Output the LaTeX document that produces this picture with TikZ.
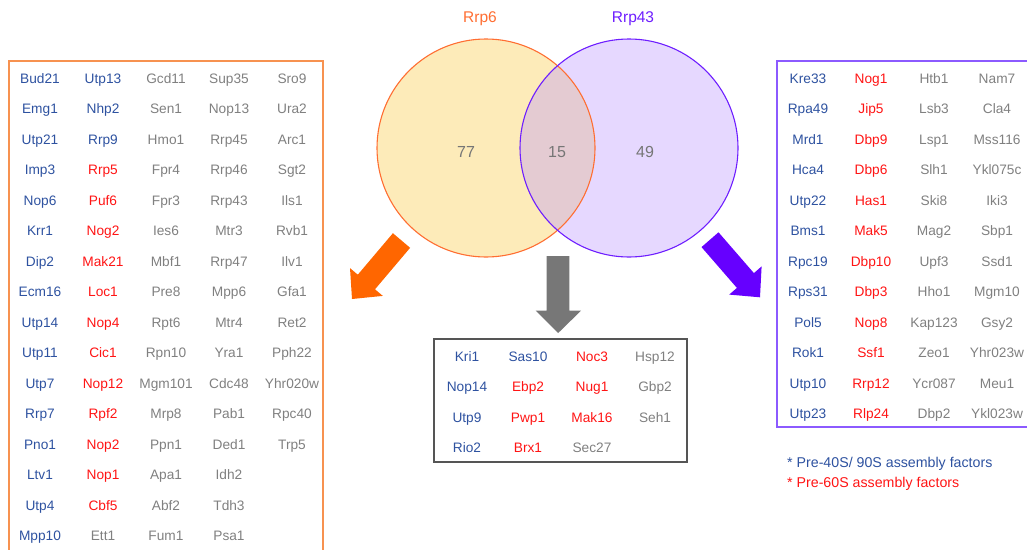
\documentclass[tikz,border=0pt]{standalone}
\usepackage{fontspec}
\setmainfont{Liberation Sans}
\definecolor{cblue}{RGB}{46,82,160}
\definecolor{cred}{RGB}{255,20,20}
\definecolor{cgray}{RGB}{128,128,128}
\definecolor{numgray}{RGB}{118,118,118}
\definecolor{orgline}{RGB}{255,110,50}
\definecolor{orgfill}{RGB}{253,235,185}
\definecolor{orgbox}{RGB}{247,146,80}
\definecolor{orgarrow}{RGB}{255,102,0}
\definecolor{purline}{RGB}{110,30,255}
\definecolor{purfill}{RGB}{185,148,255}
\definecolor{purbox}{RGB}{140,90,255}
\definecolor{purarrow}{RGB}{102,0,255}
\definecolor{grayarrow}{RGB}{119,119,119}
\definecolor{midbox}{RGB}{85,85,85}
\newcommand{\genefont}{\fontsize{13.7}{15}\selectfont}
\tikzset{
  gene/.style={anchor=base, inner sep=0pt, font=\genefont},
  gb/.style={gene, text=cblue},
  gr/.style={gene, text=cred},
  gg/.style={gene, text=cgray},
  num/.style={anchor=base, inner sep=0pt, font=\fontsize{16}{18}\selectfont, text=numgray},
  setlabel/.style={anchor=base, inner sep=0pt, font=\fontsize{15.5}{17}\selectfont},
  legend/.style={anchor=base west, inner sep=0pt, font=\fontsize{14.2}{16}\selectfont},
}
\begin{document}
\begin{tikzpicture}[x=1pt, y=-1pt]
\useasboundingbox (0,0) rectangle (1027,549);
\clip (0,0) rectangle (1027,549);
% Venn circles
\fill[orgfill] (486,148) circle (109);
\fill[purfill, fill opacity=0.36] (629,148) circle (109);
\draw[orgline, line width=1.1pt] (486,148) circle (109);
\draw[purline, line width=1.1pt] (629,148) circle (109);
\node[setlabel, text=orgline] (lab6) at (480,22.5) {Rrp6};
\node[setlabel, text=purline] (lab43) at (633,22.5) {Rrp43};
\node[num] (n77) at (466,157.5) {77};
\node[num] (n15) at (557,157.5) {15};
\node[num] (n49) at (645,157.5) {49};
% fat arrows
\fill[orgarrow] (392.9,233.2) -- (410.1,247.8) -- (375.0,289.3) -- (382.8,295.9) -- (352,299) -- (350.0,268.1) -- (357.8,274.7) -- cycle;
\fill[grayarrow] (546.7,256) -- (569.3,256) -- (569.3,310.7) -- (581,310.7) -- (558.2,333) -- (535.7,310.7) -- (546.7,310.7) -- cycle;
\fill[purarrow] (718.5,232.3) -- (753.9,273.1) -- (761.6,266.4) -- (760,297.3) -- (729.2,294.6) -- (736.9,287.9) -- (701.5,247.1) -- cycle;
% boxes
\draw[orgbox, line width=1.3pt] (9,61) rectangle (323,570);
\draw[purbox, line width=1.3pt] (777,61) rectangle (1040,427);
\draw[midbox, line width=1.2pt] (434,339) rectangle (687,462);
% left box
\foreach \t [count=\i] in {Bud21,Emg1,Utp21,Imp3,Nop6,Krr1,Dip2,Ecm16,Utp14,Utp11,Utp7,Rrp7,Pno1,Ltv1,Utp4,Mpp10}
  \node[gb] (L1-\i) at (40,{83+30.5*(\i-1)}) {\t};
\foreach \c/\t [count=\i] in {b/Utp13,b/Nhp2,b/Rrp9,r/Rrp5,r/Puf6,r/Nog2,r/Mak21,r/Loc1,r/Nop4,r/Cic1,r/Nop12,r/Rpf2,r/Nop2,r/Nop1,r/Cbf5,g/Ett1}
  \node[g\c] (L2-\i) at (103,{83+30.5*(\i-1)}) {\t};
\foreach \t [count=\i] in {Gcd11,Sen1,Hmo1,Fpr4,Fpr3,Ies6,Mbf1,Pre8,Rpt6,Rpn10,Mgm101,Mrp8,Ppn1,Apa1,Abf2,Fum1}
  \node[gg] (L3-\i) at (166,{83+30.5*(\i-1)}) {\t};
\foreach \t [count=\i] in {Sup35,Nop13,Rrp45,Rrp46,Rrp43,Mtr3,Rrp47,Mpp6,Mtr4,Yra1,Cdc48,Pab1,Ded1,Idh2,Tdh3,Psa1}
  \node[gg] (L4-\i) at (229,{83+30.5*(\i-1)}) {\t};
\foreach \t [count=\i] in {Sro9,Ura2,Arc1,Sgt2,Ils1,Rvb1,Ilv1,Gfa1,Ret2,Pph22,Yhr020w,Rpc40,Trp5}
  \node[gg] (L5-\i) at (292,{83+30.5*(\i-1)}) {\t};
% middle box
\foreach \t [count=\i] in {Kri1,Nop14,Utp9,Rio2}
  \node[gb] (M1-\i) at (467,{361+30.5*(\i-1)}) {\t};
\foreach \c/\t [count=\i] in {b/Sas10,r/Ebp2,r/Pwp1,r/Brx1}
  \node[g\c] (M2-\i) at (528,{361+30.5*(\i-1)}) {\t};
\foreach \c/\t [count=\i] in {r/Noc3,r/Nug1,r/Mak16,g/Sec27}
  \node[g\c] (M3-\i) at (592,{361+30.5*(\i-1)}) {\t};
\foreach \t [count=\i] in {Hsp12,Gbp2,Seh1}
  \node[gg] (M4-\i) at (655,{361+30.5*(\i-1)}) {\t};
% right box
\foreach \t [count=\i] in {Kre33,Rpa49,Mrd1,Hca4,Utp22,Bms1,Rpc19,Rps31,Pol5,Rok1,Utp10,Utp23}
  \node[gb] (R1-\i) at (808,{83+30.5*(\i-1)}) {\t};
\foreach \t [count=\i] in {Nog1,Jip5,Dbp9,Dbp6,Has1,Mak5,Dbp10,Dbp3,Nop8,Ssf1,Rrp12,Rlp24}
  \node[gr] (R2-\i) at (871,{83+30.5*(\i-1)}) {\t};
\foreach \t [count=\i] in {Htb1,Lsb3,Lsp1,Slh1,Ski8,Mag2,Upf3,Hho1,Kap123,Zeo1,Ycr087,Dbp2}
  \node[gg] (R3-\i) at (934,{83+30.5*(\i-1)}) {\t};
\foreach \t [count=\i] in {Nam7,Cla4,Mss116,Ykl075c,Iki3,Sbp1,Ssd1,Mgm10,Gsy2,Yhr023w,Meu1,Ykl023w}
  \node[gg] (R4-\i) at (997,{83+30.5*(\i-1)}) {\t};
% legend
\node[legend, text=cblue] (leg1) at (787,467) {* Pre-40S/ 90S assembly factors};
\node[legend, text=cred] (leg2) at (787,487) {* Pre-60S assembly factors};
\end{tikzpicture}
\end{document}
